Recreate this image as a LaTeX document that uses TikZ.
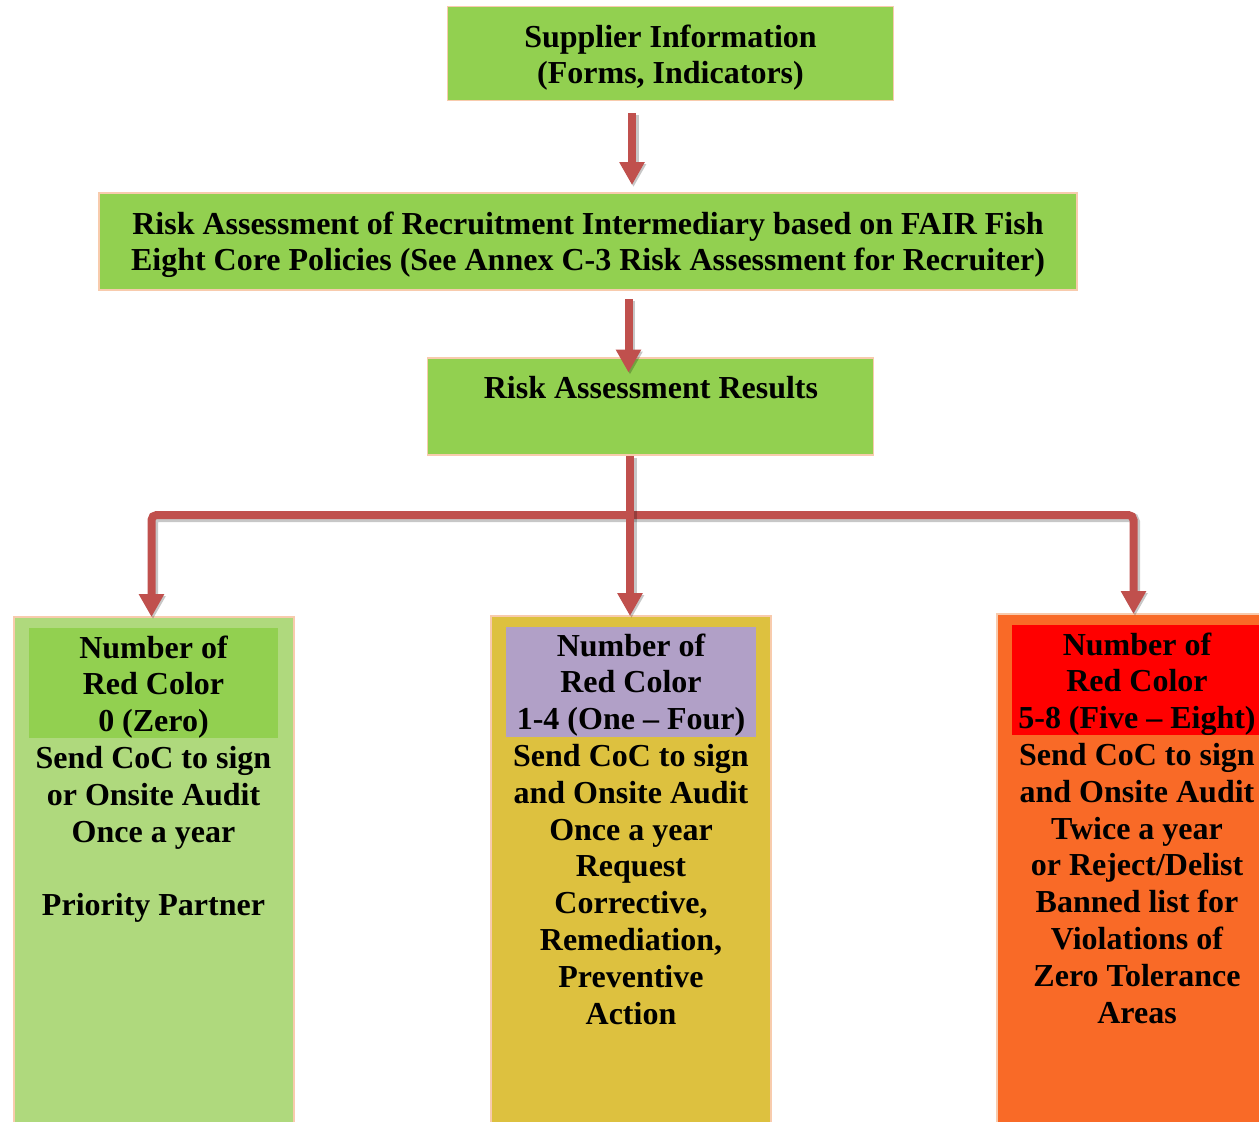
\documentclass[tikz,border=0pt]{standalone}
\usepackage{fontspec}
\setmainfont{Liberation Serif}
\usetikzlibrary{arrows.meta}
\definecolor{gTop}{HTML}{92D050}
\definecolor{gLight}{HTML}{AFD97D}
\definecolor{yMid}{HTML}{DDC13F}
\definecolor{lav}{HTML}{B1A0C7}
\definecolor{orR}{HTML}{F96A27}
\definecolor{redR}{HTML}{FF0000}
\definecolor{peach}{HTML}{F8CBAD}
\definecolor{arrowred}{HTML}{C0504D}
\tikzset{
  box/.style={draw=peach, line width=1.5pt, rectangle, inner sep=0pt},
  inbox/.style={draw=none, rectangle, inner sep=0pt},
  txt/.style={font=\bfseries\fontsize{32}{36.8}\selectfont, align=center, inner sep=0pt, anchor=north},
  shd/.style={preaction={draw=black, draw opacity=0.22, fill opacity=0.22, line width=10pt, transform canvas={xshift=1.5pt, yshift=-2pt}}},
  conn/.style={draw=arrowred, line width=8pt, shd},
  arr/.style={conn, -{Triangle[width=24pt,length=23pt]}},
  arrb/.style={conn, {Triangle[width=24pt,length=23pt]}-{Triangle[width=24pt,length=23pt]}, rounded corners=5pt}
}
\begin{document}
\begin{tikzpicture}[x=1pt,y=-1pt]
\clip (0,0) rectangle (1259,1122);
\fill[white] (0,0) rectangle (1259,1122);

% top boxes
\node[box, fill=gTop, minimum width=446pt, minimum height=94pt] (sup) at (670.5,53.5) {};
\node[box, fill=gTop, minimum width=978pt, minimum height=97pt] (ris) at (588,241.5) {};
\node[box, fill=gTop, minimum width=446pt, minimum height=97pt] (res) at (650.5,406.5) {};

% bottom boxes
\node[box, fill=gLight, minimum width=280pt, minimum height=520pt] (L) at (154,877) {};
\node[box, fill=yMid, minimum width=280pt, minimum height=520pt] (M) at (631,876) {};
\node[box, fill=orR, minimum width=300pt, minimum height=520pt] (R) at (1147,874) {};

\node[inbox, fill=gTop, minimum width=249pt, minimum height=110pt] (Lh) at (153.5,683) {};
\node[inbox, fill=lav, minimum width=250pt, minimum height=110pt] (Mh) at (631,681.5) {};
\node[inbox, fill=redR, minimum width=260pt, minimum height=110pt] (Rh) at (1142,680) {};

% texts
\node[txt] (t1) at (670.5,21.2) {\strut Supplier Information\\(Forms, Indicators)};
\node[txt] (t2) at (588,208.2) {\strut Risk Assessment of Recruitment Intermediary based on FAIR Fish\\Eight Core Policies (See Annex C-3 Risk Assessment for Recruiter)};
\node[txt] (t3) at (651,372.2) {\strut Risk Assessment Results};
\node[txt] (tL) at (153.5,632.2) {\strut Number of\\Red Color\\0 (Zero)\\Send CoC to sign\\or Onsite Audit\\Once a year\\[36.8pt]Priority Partner};
\node[txt] (tM) at (631,630.2) {\strut Number of\\Red Color\\1-4 (One – Four)\\Send CoC to sign\\and Onsite Audit\\Once a year\\Request\\Corrective,\\Remediation,\\Preventive\\Action};
\node[txt] (tR) at (1137,629.2) {\strut Number of\\Red Color\\5-8 (Five – Eight)\\Send CoC to sign\\and Onsite Audit\\Twice a year\\or Reject/Delist\\Banned list for\\Violations of\\Zero Tolerance\\Areas};

% connectors
\coordinate (a1top) at (632,113);
\coordinate (a1tip) at (632,185);
\coordinate (a2top) at (628.5,299);
\coordinate (a2tip) at (628.5,372.5);
\coordinate (hub) at (630,515);
\coordinate (eL) at (151.5,617);
\coordinate (eM) at (630,616);
\coordinate (eR) at (1133.5,614);

\draw[arr] (a1top) -- (a1tip);
\draw[arr] (a2top) -- (a2tip);
\draw[arrb] (eL) -- (eL |- hub) -- (eR |- hub) -- (eR);
\draw[arr] (hub |- res.south) -- (eM);
\end{tikzpicture}
\end{document}
